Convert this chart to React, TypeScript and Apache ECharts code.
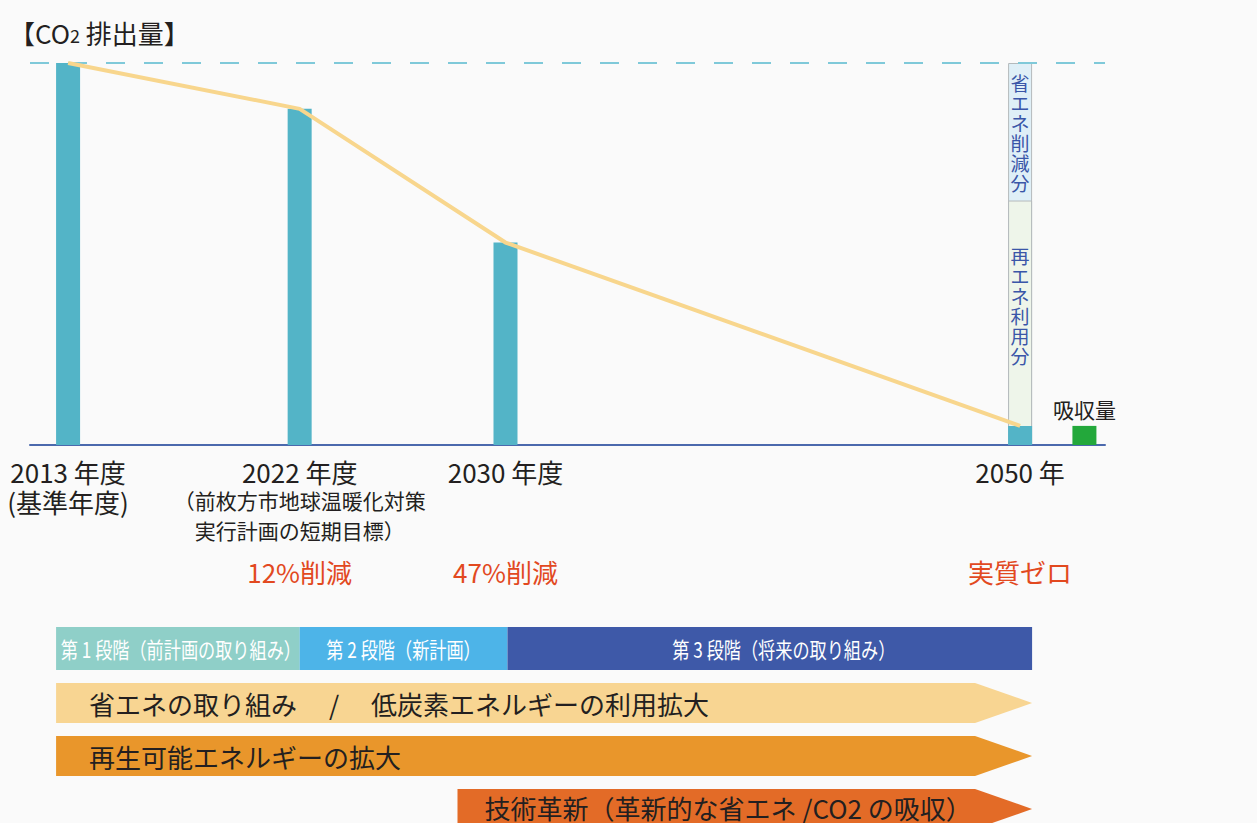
import React, { useEffect, useRef } from 'react';
import * as echarts from 'echarts';

// ---- data ----
const years = [2013, 2022, 2030, 2050];
const emissions = [100, 88, 53, 5];
const trend = [100, 88, 53, 5];
const absorptionYear = 2052.5;
const absorption = 5;
const savingTop = 100; // 省エネ削減分 (upper part of 2050 column)
const renewableTop = 64; // 再エネ利用分 (middle part of 2050 column)
const yearLabels = ['2013 年度', '2022 年度', '2030 年度', '2050 年'];
const noteLabels = [['(基準年度)'], ['（前枚方市地球温暖化対策', '実行計画の短期目標）'], [], []];
const reductionLabels = ['', '12%削減', '47%削減', '実質ゼロ'];
const stageLabels = ['第 1 段階（前計画の取り組み）', '第 2 段階（新計画）', '第 3 段階（将来の取り組み）'];
const measureLabels = [
  '省エネの取り組み　 /　 低炭素エネルギーの利用拡大',
  '再生可能エネルギーの拡大',
  '技術革新（革新的な省エネ /CO2 の吸収）',
];

const FONT = '"Noto Sans CJK JP", "Noto Sans", sans-serif';
const TEXT = '#231f20';
const RED = '#e2491f';

export default function App() {
  const ref = useRef<HTMLDivElement>(null);
  useEffect(() => {
    if (!ref.current) return;
    const chart = echarts.init(ref.current, null, { renderer: 'svg' });
    const vertical = (s: string) => s.split('').join('\n');
    const option: any = {
      animation: false,
      backgroundColor: '#fafafa',
      textStyle: { fontFamily: FONT },
      title: {
        text: '{a|【CO}{s|2}{a| 排出量】}',
        left: 4,
        top: 12,
        textStyle: {
          fontWeight: 'normal',
          rich: {
            a: { fontSize: 26, color: TEXT, fontFamily: FONT, fontWeight: 'normal', lineHeight: 30 },
            s: { fontSize: 18, color: TEXT, fontFamily: FONT, fontWeight: 'normal', lineHeight: 30, verticalAlign: 'bottom', padding: [0, 0, 3, 0] },
          },
        },
      },
      grid: { left: 30, right: 152, top: 63, bottom: 378, containLabel: false, outerBoundsMode: 'none' },
      xAxis: {
        type: 'value',
        min: 2011.52,
        max: 2053.3,
        splitLine: { show: false },
        axisTick: { show: false },
        axisLine: { show: true, onZero: false, lineStyle: { color: '#4b69ad', width: 2 } },
        axisLabel: {
          customValues: years,
          margin: 12,
          hideOverlap: false,
          formatter: (v: number) => {
            const i = years.indexOf(v);
            if (i < 0) return '';
            const parts = [`{y|${yearLabels[i]}}`];
            if (i === 0) parts.push(...noteLabels[i].map((t) => `{c|${t}}`));
            else parts.push(...noteLabels[i].map((t) => `{n|${t}}`));
            if (reductionLabels[i]) parts.push(noteLabels[i].length ? `{r|${reductionLabels[i]}}` : `{rr|${reductionLabels[i]}}`);
            return parts.join('\n');
          },
          rich: {
            y: { fontSize: 26, lineHeight: 28, color: TEXT, fontFamily: FONT },
            c: { fontSize: 26, lineHeight: 32, color: TEXT, fontFamily: FONT },
            n: { fontSize: 21, lineHeight: 30, color: TEXT, fontFamily: FONT },
            r: { fontSize: 26, lineHeight: 52, color: RED, fontFamily: FONT },
            rr: { fontSize: 26, lineHeight: 172, color: RED, fontFamily: FONT },
          },
        },
      },
      yAxis: { type: 'value', min: 0, max: 100, show: false },
      series: [
        {
          name: '省エネ削減分',
          type: 'bar',
          barWidth: 24,
          barGap: '-100%',
          data: [[2050, savingTop]],
          itemStyle: { color: '#dfeff7', borderColor: '#b5babc', borderWidth: 1 },
          label: {
            show: true,
            position: 'insideTop',
            distance: 9,
            formatter: () => vertical('省エネ削減分'),
            fontSize: 19,
            lineHeight: 20,
            color: '#3a56a8',
            fontFamily: FONT,
          },
        },
        {
          name: '再エネ利用分',
          type: 'bar',
          barWidth: 24,
          barGap: '-100%',
          data: [[2050, renewableTop]],
          itemStyle: { color: '#eef5ea', borderColor: '#b5babc', borderWidth: 1 },
          label: {
            show: true,
            position: 'insideTop',
            distance: 45,
            formatter: () => vertical('再エネ利用分'),
            fontSize: 19,
            lineHeight: 20,
            color: '#3a56a8',
            fontFamily: FONT,
          },
        },
        {
          name: 'CO2排出量',
          type: 'bar',
          barWidth: 24,
          barGap: '-100%',
          data: years.map((y, i) => [y, emissions[i]]),
          itemStyle: { color: '#53b4c7' },
          markLine: {
            silent: true,
            symbol: ['none', 'none'],
            label: { show: false },
            lineStyle: { type: [19, 19], color: '#7fc9d9', width: 2 },
            data: [{ yAxis: 100 }],
          },
        },
        {
          name: '吸収量',
          type: 'bar',
          barWidth: 24,
          barGap: '-100%',
          data: [[absorptionYear, absorption]],
          itemStyle: { color: '#23a83b' },
          label: { show: true, position: 'top', distance: 6, formatter: '吸収量', fontSize: 21, color: TEXT, fontFamily: FONT },
        },
        {
          name: '推移',
          type: 'line',
          data: years.map((y, i) => [y, trend[i]]),
          symbol: 'none',
          z: 5,
          lineStyle: { color: '#f8d68d', width: 4 },
        },
      ],
    };
    chart.setOption(option);

    const px = (yr: number) => chart.convertToPixel({ xAxisIndex: 0 }, yr) as number;
    const half = 12;
    const x2013 = px(years[0]) - half;
    const x2022 = px(years[1]);
    const x2030 = px(years[2]) + 2;
    const x2050 = px(years[3]) + half;
    const stageBounds = [
      [x2013, x2022],
      [x2022, x2030],
      [x2030, x2050],
    ];
    const stageColors = ['#8fcfc8', '#4db4e8', '#3e59a8'];
    const stageTop = 627;
    const stageH = 43;
    const graphics: any[] = [];
    stageBounds.forEach(([a, b], i) => {
      graphics.push({
        type: 'rect',
        shape: { x: a, y: stageTop, width: b - a, height: stageH },
        style: { fill: stageColors[i] },
      });
      const cx = i === 2 ? (a + b) / 2 + 14 : (a + b) / 2 + (i === 0 ? 3 : 0);
      graphics.push({
        type: 'text',
        x: cx,
        y: stageTop + stageH / 2,
        scaleX: 0.78,
        style: {
          text: stageLabels[i],
          fill: '#ffffff',
          font: `22px ${FONT}`,
          align: 'center',
          verticalAlign: 'middle',
        },
      });
    });
    const arrowColors = ['#f8d592', '#e9962b', '#e36b27'];
    const arrowStarts = [x2013, x2013, px(years[2]) - 48];
    const arrowTops = [683, 736, 789];
    const arrowH = 40;
    const tip = x2050;
    const shaftEnd = tip - 57;
    arrowStarts.forEach((x0, i) => {
      const t = arrowTops[i];
      graphics.push({
        type: 'polygon',
        shape: {
          points: [
            [x0, t],
            [shaftEnd, t],
            [tip, t + arrowH / 2],
            [shaftEnd, t + arrowH],
            [x0, t + arrowH],
          ],
        },
        style: { fill: arrowColors[i] },
      });
      graphics.push({
        type: 'text',
        x: x0 + (i === 2 ? 27 : 33),
        y: t + arrowH / 2 - (i === 2 ? 2 : 0),
        style: {
          text: measureLabels[i],
          fill: TEXT,
          font: `26px ${FONT}`,
          align: 'left',
          verticalAlign: 'middle',
        },
      });
    });
    chart.setOption({ graphic: graphics });

    return () => chart.dispose();
  }, []);
  return <div ref={ref} style={{ position: 'fixed', left: 0, top: 0, width: 1257, height: 823 }} />;
}
